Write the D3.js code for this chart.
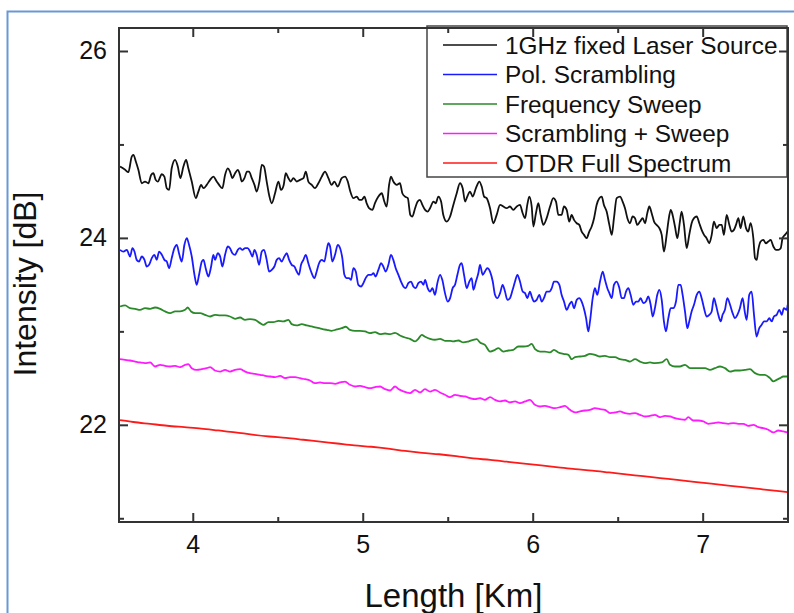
<!DOCTYPE html>
<html><head><meta charset="utf-8">
<script src="https://cdn.jsdelivr.net/npm/d3@7"></script>
<style>
html,body{margin:0;padding:0;background:#fff;}
svg{display:block;font-family:"Liberation Sans",Arial,sans-serif;}
</style></head><body>
<svg id="chart" width="794" height="613"></svg>
<script>
// ---------------- data ----------------
const seriesNames = ["1GHz fixed Laser Source","Pol. Scrambling","Frequency Sweep","Scrambling + Sweep","OTDR Full Spectrum"];
const xMajorTicks = [4,5,6,7];
const xMinorTicks = [4.5,5.5,6.5];
const yMajorTicks = [22,24,26];
const yMinorTicks = [21,23,25];
const xTitle = "Length [Km]";
const yTitle = "Intensity [dB]";

const fixedLaser = [[3.572,24.763],[3.602,24.728],[3.621,24.703],[3.641,24.870],[3.651,24.888],[3.665,24.817],[3.680,24.728],[3.700,24.585],[3.719,24.603],[3.739,24.585],[3.755,24.674],[3.768,24.692],[3.782,24.621],[3.794,24.603],[3.818,24.681],[3.833,24.656],[3.847,24.532],[3.861,24.514],[3.876,24.745],[3.896,24.835],[3.912,24.763],[3.927,24.639],[3.945,24.763],[3.961,24.835],[3.974,24.745],[3.994,24.603],[4.018,24.425],[4.033,24.496],[4.049,24.567],[4.063,24.532],[4.082,24.567],[4.102,24.621],[4.121,24.656],[4.141,24.603],[4.155,24.567],[4.174,24.532],[4.190,24.674],[4.206,24.745],[4.219,24.710],[4.233,24.639],[4.249,24.692],[4.265,24.728],[4.278,24.674],[4.288,24.603],[4.304,24.639],[4.319,24.710],[4.331,24.710],[4.347,24.639],[4.363,24.567],[4.376,24.496],[4.392,24.603],[4.406,24.781],[4.419,24.763],[4.435,24.603],[4.449,24.460],[4.465,24.371],[4.484,24.478],[4.504,24.603],[4.519,24.514],[4.535,24.567],[4.547,24.692],[4.563,24.639],[4.576,24.603],[4.592,24.639],[4.612,24.603],[4.631,24.621],[4.651,24.639],[4.665,24.710],[4.680,24.603],[4.700,24.567],[4.719,24.532],[4.739,24.585],[4.759,24.656],[4.778,24.710],[4.798,24.639],[4.817,24.567],[4.833,24.603],[4.853,24.549],[4.876,24.639],[4.896,24.656],[4.912,24.603],[4.927,24.496],[4.945,24.425],[4.965,24.442],[4.980,24.407],[4.994,24.407],[5.010,24.442],[5.023,24.371],[5.037,24.318],[5.057,24.300],[5.072,24.371],[5.092,24.442],[5.112,24.478],[5.127,24.389],[5.141,24.336],[5.155,24.567],[5.166,24.656],[5.180,24.603],[5.200,24.567],[5.219,24.585],[5.233,24.478],[5.249,24.442],[5.265,24.425],[5.280,24.246],[5.292,24.229],[5.308,24.318],[5.323,24.389],[5.337,24.407],[5.351,24.353],[5.367,24.300],[5.382,24.282],[5.396,24.318],[5.416,24.389],[5.429,24.371],[5.445,24.442],[5.461,24.389],[5.474,24.246],[5.494,24.175],[5.514,24.229],[5.533,24.353],[5.553,24.478],[5.572,24.585],[5.588,24.532],[5.602,24.389],[5.615,24.442],[5.631,24.496],[5.647,24.442],[5.666,24.532],[5.686,24.603],[5.700,24.549],[5.714,24.442],[5.729,24.425],[5.749,24.318],[5.768,24.157],[5.788,24.246],[5.808,24.353],[5.827,24.336],[5.847,24.318],[5.866,24.336],[5.886,24.300],[5.906,24.336],[5.925,24.353],[5.941,24.264],[5.955,24.211],[5.968,24.353],[5.980,24.442],[5.994,24.336],[6.004,24.122],[6.019,24.264],[6.033,24.371],[6.047,24.246],[6.063,24.139],[6.082,24.211],[6.102,24.336],[6.121,24.425],[6.137,24.389],[6.151,24.246],[6.170,24.246],[6.184,24.336],[6.200,24.300],[6.215,24.175],[6.229,24.246],[6.243,24.193],[6.259,24.157],[6.274,24.139],[6.288,24.068],[6.302,24.032],[6.317,23.997],[6.333,24.068],[6.347,24.122],[6.361,24.211],[6.376,24.353],[6.392,24.425],[6.406,24.442],[6.419,24.353],[6.435,24.282],[6.451,24.139],[6.465,24.032],[6.478,24.211],[6.494,24.425],[6.514,24.442],[6.529,24.389],[6.543,24.318],[6.557,24.211],[6.572,24.157],[6.588,24.229],[6.602,24.211],[6.615,24.139],[6.631,24.175],[6.647,24.211],[6.661,24.157],[6.674,24.264],[6.686,24.336],[6.700,24.264],[6.714,24.175],[6.729,24.139],[6.745,24.104],[6.759,24.032],[6.772,23.854],[6.788,24.032],[6.798,24.175],[6.812,24.300],[6.823,24.246],[6.837,24.122],[6.851,23.997],[6.866,24.175],[6.876,24.282],[6.890,24.139],[6.906,23.890],[6.921,24.032],[6.935,24.157],[6.949,24.211],[6.965,24.229],[6.980,24.157],[6.994,24.086],[7.008,24.032],[7.023,23.997],[7.039,23.943],[7.053,24.032],[7.066,24.175],[7.082,24.104],[7.098,24.139],[7.112,24.139],[7.125,24.032],[7.141,24.246],[7.157,24.139],[7.170,24.068],[7.184,24.086],[7.196,24.139],[7.210,24.211],[7.223,24.104],[7.239,24.229],[7.255,24.104],[7.268,24.068],[7.282,24.157],[7.298,23.997],[7.308,23.783],[7.318,23.765],[7.327,23.872],[7.341,23.961],[7.357,23.979],[7.372,23.943],[7.386,23.961],[7.400,23.979],[7.416,23.908],[7.431,23.872],[7.445,23.872],[7.459,23.890],[7.470,23.997],[7.484,24.032],[7.500,24.068]];

const polScrambling = [[3.572,23.872],[3.592,23.854],[3.612,23.872],[3.631,23.801],[3.645,23.890],[3.657,23.854],[3.670,23.765],[3.684,23.747],[3.700,23.801],[3.716,23.765],[3.729,23.694],[3.743,23.712],[3.759,23.783],[3.774,23.819],[3.788,23.765],[3.802,23.854],[3.818,23.819],[3.833,23.765],[3.847,23.747],[3.861,23.676],[3.876,23.783],[3.892,23.890],[3.906,23.926],[3.919,23.836],[3.935,23.747],[3.951,23.926],[3.965,23.997],[3.978,23.926],[3.994,23.801],[4.010,23.605],[4.023,23.498],[4.037,23.605],[4.053,23.747],[4.063,23.765],[4.076,23.676],[4.092,23.587],[4.108,23.694],[4.121,23.819],[4.131,23.765],[4.147,23.836],[4.161,23.801],[4.174,23.694],[4.190,23.819],[4.206,23.908],[4.219,23.890],[4.233,23.836],[4.249,23.819],[4.265,23.872],[4.278,23.890],[4.292,23.872],[4.308,23.890],[4.323,23.890],[4.337,23.854],[4.351,23.801],[4.363,23.872],[4.376,23.819],[4.390,23.712],[4.406,23.854],[4.419,23.872],[4.435,23.765],[4.449,23.640],[4.465,23.658],[4.480,23.694],[4.494,23.765],[4.508,23.783],[4.523,23.747],[4.539,23.801],[4.553,23.836],[4.567,23.765],[4.582,23.712],[4.598,23.694],[4.612,23.640],[4.625,23.605],[4.637,23.712],[4.651,23.765],[4.665,23.819],[4.680,23.729],[4.696,23.640],[4.716,23.569],[4.729,23.640],[4.743,23.729],[4.759,23.765],[4.774,23.747],[4.788,23.872],[4.798,23.943],[4.808,23.908],[4.821,23.747],[4.837,23.819],[4.853,23.926],[4.867,23.890],[4.880,23.783],[4.892,23.605],[4.906,23.569],[4.919,23.569],[4.931,23.551],[4.945,23.676],[4.959,23.640],[4.974,23.498],[4.990,23.480],[5.004,23.516],[5.017,23.569],[5.033,23.605],[5.049,23.605],[5.063,23.622],[5.076,23.587],[5.092,23.658],[5.108,23.729],[5.121,23.694],[5.135,23.640],[5.151,23.712],[5.166,23.819],[5.180,23.765],[5.194,23.676],[5.210,23.605],[5.225,23.533],[5.239,23.480],[5.253,23.462],[5.268,23.516],[5.284,23.533],[5.298,23.480],[5.312,23.462],[5.327,23.516],[5.343,23.533],[5.357,23.498],[5.367,23.551],[5.382,23.462],[5.396,23.426],[5.410,23.462],[5.425,23.391],[5.439,23.516],[5.455,23.605],[5.468,23.551],[5.484,23.409],[5.500,23.319],[5.514,23.355],[5.529,23.462],[5.543,23.498],[5.557,23.605],[5.572,23.712],[5.582,23.729],[5.596,23.605],[5.612,23.462],[5.627,23.533],[5.641,23.569],[5.651,23.444],[5.666,23.533],[5.680,23.622],[5.690,23.712],[5.706,23.605],[5.719,23.640],[5.733,23.676],[5.749,23.640],[5.765,23.533],[5.778,23.391],[5.792,23.355],[5.808,23.409],[5.823,23.498],[5.837,23.426],[5.851,23.337],[5.866,23.355],[5.882,23.444],[5.896,23.533],[5.910,23.605],[5.925,23.533],[5.941,23.426],[5.955,23.409],[5.968,23.355],[5.984,23.426],[5.994,23.373],[6.008,23.319],[6.023,23.337],[6.039,23.391],[6.053,23.319],[6.066,23.355],[6.082,23.426],[6.098,23.426],[6.112,23.462],[6.125,23.533],[6.141,23.533],[6.157,23.498],[6.170,23.391],[6.184,23.319],[6.200,23.230],[6.215,23.284],[6.229,23.319],[6.243,23.248],[6.259,23.337],[6.274,23.355],[6.288,23.319],[6.298,23.266],[6.314,23.141],[6.327,22.999],[6.337,23.106],[6.353,23.355],[6.366,23.462],[6.380,23.391],[6.396,23.533],[6.412,23.640],[6.425,23.551],[6.439,23.462],[6.451,23.409],[6.465,23.355],[6.478,23.498],[6.494,23.533],[6.510,23.462],[6.523,23.355],[6.537,23.355],[6.549,23.426],[6.563,23.462],[6.576,23.391],[6.592,23.284],[6.608,23.319],[6.621,23.319],[6.635,23.355],[6.651,23.301],[6.666,23.319],[6.680,23.373],[6.694,23.284],[6.706,23.159],[6.719,23.248],[6.733,23.391],[6.745,23.444],[6.759,23.337],[6.772,23.106],[6.784,22.999],[6.798,23.141],[6.812,23.248],[6.827,23.248],[6.843,23.319],[6.857,23.498],[6.870,23.498],[6.882,23.391],[6.896,23.213],[6.910,23.034],[6.921,23.106],[6.935,23.213],[6.949,23.284],[6.965,23.391],[6.980,23.426],[6.994,23.355],[7.008,23.248],[7.023,23.159],[7.039,23.177],[7.053,23.213],[7.066,23.355],[7.078,23.284],[7.092,23.177],[7.106,23.106],[7.117,23.177],[7.131,23.230],[7.145,23.355],[7.161,23.284],[7.176,23.195],[7.190,23.141],[7.204,23.177],[7.219,23.248],[7.235,23.355],[7.249,23.195],[7.259,23.123],[7.274,23.391],[7.288,23.426],[7.302,23.177],[7.317,22.945],[7.333,23.034],[7.347,23.070],[7.361,23.106],[7.376,23.106],[7.392,23.141],[7.406,23.106],[7.419,23.159],[7.435,23.177],[7.451,23.230],[7.465,23.177],[7.478,23.248],[7.494,23.230],[7.500,23.284]];

const frequencySweep = [[3.572,23.266],[3.602,23.277],[3.631,23.248],[3.661,23.241],[3.690,23.230],[3.719,23.248],[3.749,23.241],[3.778,23.255],[3.808,23.241],[3.837,23.213],[3.867,23.195],[3.896,23.213],[3.925,23.213],[3.955,23.230],[3.970,23.255],[3.990,23.213],[4.014,23.195],[4.043,23.195],[4.072,23.177],[4.102,23.159],[4.131,23.177],[4.161,23.170],[4.190,23.170],[4.219,23.159],[4.249,23.134],[4.278,23.148],[4.308,23.123],[4.337,23.131],[4.367,23.123],[4.396,23.088],[4.416,23.070],[4.445,23.098],[4.474,23.098],[4.504,23.113],[4.533,23.106],[4.563,23.123],[4.582,23.077],[4.612,23.063],[4.641,23.077],[4.670,23.063],[4.700,23.052],[4.729,23.041],[4.759,23.027],[4.788,23.016],[4.817,23.006],[4.847,23.020],[4.876,23.034],[4.900,23.049],[4.925,23.016],[4.955,23.006],[4.984,23.006],[5.014,22.999],[5.043,22.981],[5.072,22.992],[5.102,22.970],[5.131,22.977],[5.161,22.970],[5.190,22.984],[5.219,22.956],[5.249,22.934],[5.278,22.920],[5.308,22.892],[5.327,22.920],[5.347,22.963],[5.367,22.942],[5.396,22.920],[5.425,22.910],[5.455,22.920],[5.484,22.899],[5.514,22.899],[5.533,22.892],[5.563,22.902],[5.592,22.881],[5.621,22.891],[5.651,22.909],[5.670,22.916],[5.690,22.881],[5.719,22.856],[5.749,22.784],[5.778,22.802],[5.798,22.820],[5.827,22.784],[5.857,22.795],[5.886,22.802],[5.915,22.838],[5.945,22.838],[5.974,22.845],[5.994,22.866],[6.014,22.809],[6.043,22.784],[6.072,22.784],[6.102,22.774],[6.125,22.802],[6.151,22.774],[6.180,22.759],[6.210,22.749],[6.229,22.702],[6.249,22.724],[6.278,22.731],[6.308,22.738],[6.337,22.759],[6.366,22.749],[6.396,22.731],[6.425,22.738],[6.455,22.724],[6.484,22.724],[6.513,22.702],[6.543,22.695],[6.572,22.677],[6.602,22.702],[6.631,22.677],[6.661,22.660],[6.690,22.667],[6.719,22.660],[6.759,22.667],[6.788,22.702],[6.808,22.642],[6.837,22.624],[6.866,22.624],[6.896,22.642],[6.925,22.606],[6.955,22.606],[6.984,22.606],[7.014,22.606],[7.043,22.588],[7.072,22.606],[7.102,22.624],[7.131,22.606],[7.161,22.570],[7.190,22.581],[7.219,22.581],[7.249,22.588],[7.278,22.595],[7.308,22.553],[7.337,22.535],[7.366,22.535],[7.396,22.499],[7.416,22.464],[7.435,22.481],[7.455,22.499],[7.474,22.517],[7.500,22.517]];

const scramblingSweep = [[3.572,22.702],[3.602,22.695],[3.631,22.688],[3.661,22.677],[3.690,22.667],[3.719,22.660],[3.749,22.667],[3.778,22.624],[3.808,22.642],[3.837,22.631],[3.866,22.624],[3.896,22.631],[3.925,22.617],[3.955,22.642],[3.974,22.649],[3.994,22.606],[4.023,22.588],[4.053,22.595],[4.082,22.606],[4.102,22.617],[4.131,22.581],[4.161,22.570],[4.190,22.588],[4.219,22.570],[4.249,22.588],[4.278,22.595],[4.308,22.570],[4.337,22.553],[4.366,22.545],[4.396,22.535],[4.425,22.524],[4.455,22.517],[4.484,22.510],[4.514,22.524],[4.543,22.499],[4.572,22.510],[4.602,22.510],[4.631,22.499],[4.661,22.488],[4.690,22.474],[4.719,22.446],[4.749,22.453],[4.778,22.446],[4.808,22.446],[4.837,22.439],[4.866,22.453],[4.896,22.463],[4.925,22.428],[4.955,22.410],[4.984,22.417],[5.014,22.403],[5.043,22.392],[5.072,22.403],[5.102,22.410],[5.131,22.382],[5.161,22.367],[5.190,22.410],[5.210,22.382],[5.239,22.357],[5.278,22.339],[5.308,22.374],[5.337,22.346],[5.366,22.381],[5.396,22.356],[5.425,22.374],[5.455,22.346],[5.484,22.321],[5.513,22.296],[5.543,22.321],[5.572,22.310],[5.602,22.303],[5.631,22.285],[5.661,22.274],[5.690,22.285],[5.719,22.267],[5.749,22.296],[5.778,22.267],[5.808,22.250],[5.837,22.260],[5.866,22.239],[5.896,22.250],[5.925,22.232],[5.955,22.250],[5.984,22.267],[6.013,22.214],[6.043,22.196],[6.072,22.203],[6.102,22.189],[6.131,22.178],[6.161,22.189],[6.190,22.203],[6.219,22.160],[6.249,22.132],[6.278,22.143],[6.308,22.153],[6.337,22.160],[6.366,22.178],[6.396,22.168],[6.425,22.160],[6.455,22.125],[6.484,22.132],[6.513,22.143],[6.543,22.125],[6.572,22.118],[6.602,22.125],[6.631,22.107],[6.661,22.089],[6.690,22.096],[6.719,22.107],[6.749,22.082],[6.778,22.096],[6.808,22.089],[6.837,22.071],[6.866,22.061],[6.896,22.054],[6.915,22.082],[6.945,22.046],[6.974,22.046],[7.004,22.036],[7.033,22.011],[7.063,22.018],[7.092,22.025],[7.121,22.018],[7.151,22.011],[7.180,22.018],[7.209,22.011],[7.239,22.011],[7.268,21.989],[7.298,22.000],[7.327,21.975],[7.357,21.964],[7.386,21.947],[7.416,21.918],[7.445,21.939],[7.474,21.929],[7.500,21.918]];

const otdrFull = [[3.572,22.050],[3.650,22.030],[3.750,22.010],[3.850,21.990],[3.950,21.975],[4.050,21.960],[4.150,21.940],[4.250,21.920],[4.350,21.895],[4.450,21.875],[4.550,21.860],[4.650,21.840],[4.750,21.820],[4.850,21.800],[4.950,21.780],[5.050,21.765],[5.150,21.745],[5.250,21.720],[5.350,21.700],[5.450,21.685],[5.550,21.665],[5.650,21.640],[5.750,21.625],[5.850,21.605],[5.950,21.585],[6.050,21.565],[6.150,21.545],[6.250,21.525],[6.350,21.510],[6.450,21.490],[6.550,21.470],[6.650,21.450],[6.750,21.430],[6.850,21.410],[6.950,21.390],[7.050,21.370],[7.150,21.350],[7.250,21.330],[7.350,21.310],[7.450,21.290],[7.500,21.280]];

const allSeries = [fixedLaser, polScrambling, frequencySweep, scramblingSweep, otdrFull];
const seriesColors = ["#111111","#1a1aff","#2a8a2a","#ff1aff","#ff1a1a"];

// ---------------- drawing ----------------
const svg = d3.select("#chart");
const P = {left:119, right:788, top:28, bottom:522};
const x = d3.scaleLinear().domain([3.566, 7.502]).range([P.left, P.right]);
const y = d3.scaleLinear().domain([20.96, 26.246]).range([P.bottom, P.top]);

// outer frame of the figure
svg.append("rect").attr("x",7.5).attr("y",11.5).attr("width",820).attr("height",640)
  .attr("fill","none").attr("stroke","#6b98d3").attr("stroke-width",2);

svg.append("defs").append("clipPath").attr("id","clip")
  .append("rect").attr("x",P.left).attr("y",P.top).attr("width",P.right-P.left).attr("height",P.bottom-P.top);

const line = d3.line().x(d=>x(d[0])).y(d=>y(d[1])).curve(d3.curveMonotoneX);
const g = svg.append("g").attr("clip-path","url(#clip)");
allSeries.forEach((s,i)=>{
  g.append("path").datum(s).attr("d",line).attr("fill","none")
    .attr("stroke",seriesColors[i]).attr("stroke-width",1.8).attr("stroke-linejoin","round");
});

// legend
const lg = svg.append("g");
lg.append("rect").attr("x",427).attr("y",26).attr("width",360).attr("height",151)
  .attr("fill","#fff").attr("stroke","#444").attr("stroke-width",1.5);
seriesNames.forEach((n,i)=>{
  const yy = 45 + i*29.5;
  lg.append("line").attr("x1",443).attr("x2",497).attr("y1",yy).attr("y2",yy)
    .attr("stroke",seriesColors[i]).attr("stroke-width",1.5);
  lg.append("text").attr("x",505).attr("y",yy+8.5).attr("font-size",24.4).attr("fill","#111").text(n);
});

// axes frame
svg.append("rect").attr("x",P.left).attr("y",P.top).attr("width",P.right-P.left).attr("height",P.bottom-P.top)
  .attr("fill","none").attr("stroke","#333").attr("stroke-width",2);

function styleAxis(sel){
  sel.select(".domain").remove();
  sel.selectAll(".tick line").attr("stroke","#333").attr("stroke-width",2);
  sel.selectAll(".tick text").attr("fill","#111").attr("font-size",25).attr("font-family",'"Liberation Sans",Arial,sans-serif');
}
const fmt = d3.format("d");
svg.append("g").attr("transform",`translate(0,${P.bottom})`)
  .call(d3.axisBottom(x).tickValues(xMajorTicks).tickSize(-9).tickPadding(13).tickFormat(fmt)).call(styleAxis);
svg.append("g").attr("transform",`translate(0,${P.bottom})`)
  .call(d3.axisBottom(x).tickValues(xMinorTicks).tickSize(-5).tickFormat("")).call(styleAxis);
svg.append("g").attr("transform",`translate(0,${P.top})`)
  .call(d3.axisTop(x).tickValues(xMajorTicks).tickSize(-9).tickFormat("")).call(styleAxis);
svg.append("g").attr("transform",`translate(0,${P.top})`)
  .call(d3.axisTop(x).tickValues(xMinorTicks).tickSize(-5).tickFormat("")).call(styleAxis);
svg.append("g").attr("transform",`translate(${P.left},0)`)
  .call(d3.axisLeft(y).tickValues(yMajorTicks).tickSize(-9).tickPadding(12).tickFormat(fmt)).call(styleAxis);
svg.append("g").attr("transform",`translate(${P.left},0)`)
  .call(d3.axisLeft(y).tickValues(yMinorTicks).tickSize(-5).tickFormat("")).call(styleAxis);
svg.append("g").attr("transform",`translate(${P.right},0)`)
  .call(d3.axisRight(y).tickValues(yMajorTicks).tickSize(-9).tickFormat("")).call(styleAxis);
svg.append("g").attr("transform",`translate(${P.right},0)`)
  .call(d3.axisRight(y).tickValues(yMinorTicks).tickSize(-5).tickFormat("")).call(styleAxis);

// titles
svg.append("text").attr("x",(P.left+P.right)/2).attr("y",607).attr("text-anchor","middle")
  .attr("font-size",33).attr("fill","#111").text(xTitle);
svg.append("text").attr("transform",`translate(36,${(P.top+P.bottom)/2+9}) rotate(-90)`).attr("text-anchor","middle")
  .attr("font-size",32).attr("fill","#111").text(yTitle);
</script>
</body></html>
